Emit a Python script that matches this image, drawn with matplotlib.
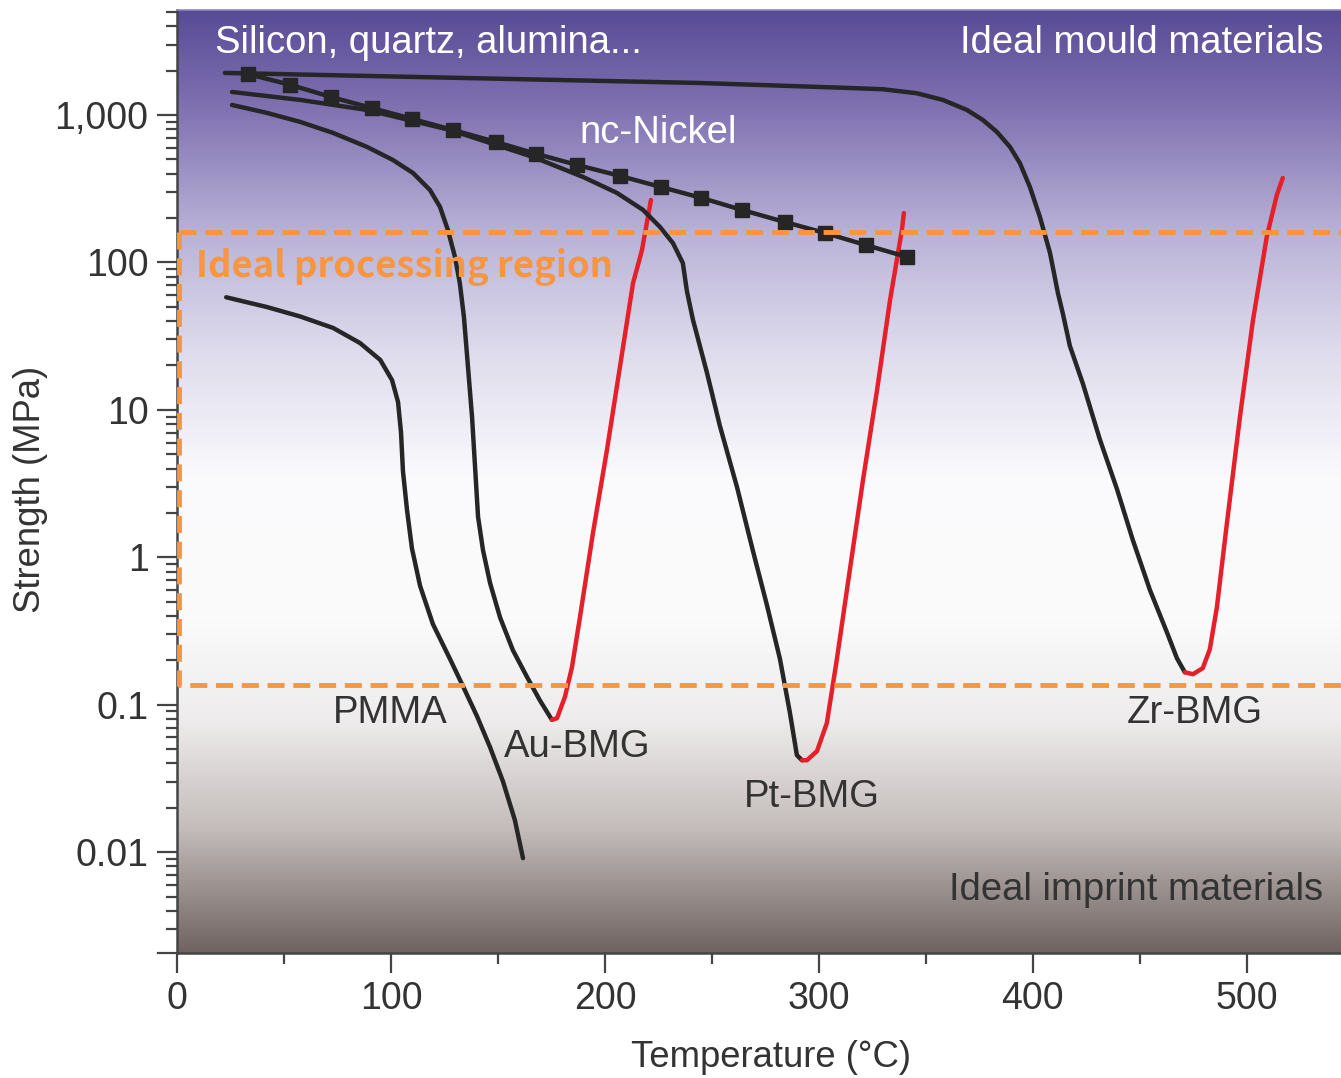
import numpy as np
import matplotlib.pyplot as plt
from matplotlib.colors import LinearSegmentedColormap
from matplotlib.ticker import FixedLocator, LogLocator, NullFormatter

# temperature (C) and strength (MPa)
pmma_t = [23, 42, 57.5, 73, 85.5, 95, 100.5, 103.3, 104.7, 105.6, 107.5, 109.8, 113.6,
          119.6, 127.6, 133.6, 140.2, 146.3, 152.3, 157.9, 161.7]
pmma_s = [58, 49.8, 43, 35.9, 28.4, 21.8, 15.9, 11.3, 7.0, 3.84, 2.09, 1.15, 0.64,
          0.352, 0.204, 0.134, 0.0836, 0.0515, 0.0303, 0.0165, 0.0091]

au_t = [25.7, 42.1, 57.5, 72.9, 88.8, 100.9, 110.3, 118.2, 122.9, 126.6, 129.9, 132.2,
        134.1, 136.0, 137.9, 139.3, 140.7, 143.0, 146.3, 151.0, 157.0, 163.6, 169.6, 175.2]
au_s = [1169, 1032, 898, 756, 607, 495, 404, 310, 238, 166, 109, 72,
        42.6, 19.5, 8.9, 4.1, 1.88, 1.12, 0.67, 0.39, 0.234, 0.154, 0.107, 0.079]
au_red_t = [175.2, 177.6, 181.3, 184.6, 188.3, 194.4, 200.9, 207.0, 213.1, 217.3, 221.5]
au_red_s = [0.079, 0.081, 0.113, 0.18, 0.39, 1.46, 5.3, 19.5, 72, 121, 265]

pt_t = [25.7, 57.5, 88.8, 127.6, 166.4, 189.7, 205.6, 217.8, 225.7, 231.8, 236.4, 238.3,
        241.1, 247.7, 253.7, 261.7, 269.2, 275.7, 281.8, 286.4, 289.7, 292.1]
pt_s = [1432, 1265, 1081, 791, 519, 380, 296, 227, 174, 135, 99, 64,
        41, 17.8, 7.8, 3.0, 1.10, 0.474, 0.204, 0.089, 0.0455, 0.042]
pt_red_t = [292.1, 294.4, 299.1, 303.7, 308.4, 314.5, 320.6, 327.1, 333.2, 338.8, 339.7]
pt_red_s = [0.042, 0.042, 0.0484, 0.075, 0.204, 0.83, 3.34, 13.4, 55, 166, 216]

zr_t = [22.4, 127, 244, 314.5, 329.9, 345.8, 357.9, 369.2, 376.6, 383.2, 389.3, 393.9,
        398.6, 403.3, 408.0, 411.7, 414.0, 417.3, 423.4, 431.3, 439.3, 446.7, 454.7,
        462.6, 467.3, 471.0]
zr_s = [1928, 1790, 1648, 1524, 1494, 1403, 1265, 1081, 925, 767, 607, 472,
        325, 203, 116, 62, 45, 27.1, 15.0, 6.3, 2.9, 1.31, 0.60,
        0.311, 0.207, 0.166]
zr_red_t = [471.0, 474.8, 479.4, 482.7, 486.0, 490.7, 496.7, 502.8, 509.3, 514.0, 516.8]
zr_red_s = [0.166, 0.161, 0.177, 0.238, 0.459, 1.71, 8.8, 40, 149, 286, 374]

ni_t = [33, 53, 72, 91, 110, 129, 149, 168, 187, 207, 226, 245, 264, 284, 303, 322, 341]
ni_s = [1897, 1600, 1324, 1115, 939, 791, 656, 544, 458, 386, 325, 274, 227, 188, 158, 131, 109]

region_low, region_high = 0.136, 161
x_ticks = [0, 100, 200, 300, 400, 500]
y_ticks = [0.01, 0.1, 1, 10, 100, 1000]
y_labels = ["0.01", "0.1", "1", "10", "100", "1,000"]

plt.rcParams["font.family"] = ["Liberation Sans", "DejaVu Sans"]

fig = plt.figure(figsize=(13.41, 10.78), dpi=100)
ax = fig.add_axes([177 / 1341, 1 - 953 / 1078, 1 - 177 / 1341, (953 - 10) / 1078])
ax.set_yscale("log")
ax.set_xlim(0, 544)
ax.set_ylim(0.00207, 5150)

# background gradient
stops = [(0.0, (112, 100, 98)), (0.13, (195, 188, 186)), (0.246, (238, 236, 236)),
         (0.35, (250, 250, 250)), (0.50, (251, 251, 253)), (0.64, (222, 219, 236)),
         (0.765, (185, 178, 215)), (0.905, (125, 110, 175)), (1.0, (88, 76, 150))]
cmap = LinearSegmentedColormap.from_list("bg", [(p, tuple(c / 255 for c in col)) for p, col in stops])
grad = np.linspace(1, 0, 512).reshape(-1, 1)
ax.imshow(grad, cmap=cmap, aspect="auto", extent=[0, 1, 0, 1], transform=ax.transAxes, zorder=0)

black = "#262626"
red = "#e5202b"
orange = "#f7963f"
lw = 3.2

for t, s, c in [(pmma_t, pmma_s, black), (au_t, au_s, black), (au_red_t, au_red_s, red),
                (pt_t, pt_s, black), (pt_red_t, pt_red_s, red),
                (zr_t, zr_s, black), (zr_red_t, zr_red_s, red)]:
    ax.plot(t, s, color=c, lw=lw, solid_capstyle="round", solid_joinstyle="round", zorder=3)
ax.plot(ni_t, ni_s, color=black, lw=lw, marker="s", markersize=9.5, zorder=4)

# ideal processing region
ax.plot([1, 1, 544], [region_high, region_low, region_low], color=orange, lw=3.5,
        ls=(0, (3.5, 1.8)), zorder=5, clip_on=False)
ax.plot([1, 544], [region_high, region_high], color=orange, lw=3.5, ls=(0, (3.5, 1.8)), zorder=5)

# ticks
ax.xaxis.set_major_locator(FixedLocator(x_ticks))
ax.xaxis.set_minor_locator(FixedLocator([50, 150, 250, 350, 450]))
ax.yaxis.set_major_locator(FixedLocator(y_ticks))
ax.set_yticklabels(y_labels)
ax.yaxis.set_minor_locator(LogLocator(base=10, subs=np.arange(2, 10), numticks=20))
ax.yaxis.set_minor_formatter(NullFormatter())
ax.tick_params(axis="both", which="major", length=14.5, width=1.6, color="#444444",
               labelsize=27, labelcolor="#333333", pad=6)
ax.tick_params(axis="both", which="minor", length=8, width=1.6, color="#444444")
ax.plot([-0.0165, 0], [0, 0], transform=ax.transAxes, color="#444444", lw=1.6, clip_on=False)

for side in ["left", "bottom"]:
    ax.spines[side].set_color("#444444")
    ax.spines[side].set_linewidth(1.8)
ax.spines["right"].set_visible(False)
ax.spines["top"].set_color("#9088c4")
ax.spines["top"].set_linewidth(1.2)

ax.set_xlabel("Temperature (°C)", fontsize=26.3, color="#333333")
ax.set_ylabel("Strength (MPa)", fontsize=26.3, color="#333333")
ax.xaxis.set_label_coords(0.51, -0.0925)
ax.yaxis.set_label_coords(-0.111, 0.492)

# annotations
lab = 27.5
ax.text(0.033, 0.965, "Silicon, quartz, alumina...", transform=ax.transAxes, fontsize=lab,
        color="white", ha="left", va="center", zorder=6)
ax.text(0.985, 0.965, "Ideal mould materials", transform=ax.transAxes, fontsize=lab,
        color="white", ha="right", va="center", zorder=6)
ax.text(188, 755, "nc-Nickel", fontsize=lab, color="white", ha="left", va="center", zorder=6)
ax.text(0.016, 0.7275, "Ideal processing region", transform=ax.transAxes, fontsize=26.2,
        color=orange, fontweight="bold", family=["Noto Sans CJK KR", "DejaVu Sans"],
        ha="left", va="center", zorder=6)
ax.text(73, 0.088, "PMMA", fontsize=lab, color="#333333", ha="left", va="center", zorder=6)
ax.text(153, 0.052, "Au-BMG", fontsize=lab, color="#333333", ha="left", va="center", zorder=6)
ax.text(265, 0.0235, "Pt-BMG", fontsize=lab, color="#333333", ha="left", va="center", zorder=6)
ax.text(444, 0.088, "Zr-BMG", fontsize=lab, color="#333333", ha="left", va="center", zorder=6)
ax.text(0.985, 0.0665, "Ideal imprint materials", transform=ax.transAxes, fontsize=lab,
        color="#333333", ha="right", va="center", zorder=6)

fig.savefig("out.png", dpi=100)
